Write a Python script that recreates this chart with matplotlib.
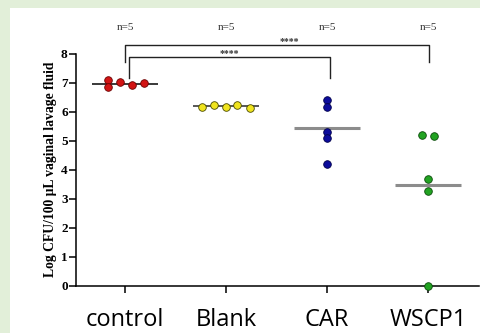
import numpy as np
import matplotlib
matplotlib.use('Agg')
import matplotlib.pyplot as plt
from matplotlib.patches import Rectangle

# data
groups = ['control', 'Blank', 'CAR', 'WSCP1']
control = [7.08, 6.86, 7.03, 6.91, 6.98]
blank = [6.15, 6.23, 6.16, 6.23, 6.14]
car = [6.40, 6.15, 5.29, 5.08, 4.20]
wscp1 = [5.20, 5.16, 3.67, 3.28, 0.0]
n_labels = ['n=5', 'n=5', 'n=5', 'n=5']
stars = ['****', '****']

values = [control, blank, car, wscp1]

# layout / styling
jitter = [[-0.17, -0.17, -0.05, 0.07, 0.19],
          [-0.24, -0.12, 0.0, 0.11, 0.24],
          [0, 0, 0, 0, 0],
          [-0.06, 0.06, 0, 0, 0]]
face = ['#d21414', '#f0e41e', '#0c0c9c', '#22a322']
edge = ['#6a0000', '#4a4a00', '#00004a', '#0a4a0a']
mean_col = ['#2a2a2a', '#4a4a4a', '#8c8c8c', '#8c8c8c']
mean_lw = [1.3, 1.3, 2.2, 2.2]

W, H = 481, 333
fig = plt.figure(figsize=(W / 100, H / 100), dpi=100, facecolor='#e2efd9')
fig.patches.append(Rectangle((10 / W, 0), 1, 1 - 8 / H, transform=fig.transFigure,
                             facecolor='white', edgecolor='none', zorder=-1))

ax = fig.add_axes([76 / W, 1 - 285.7 / H, 403 / W, 232 / H])
ax.set_facecolor('none')
ax.set_xlim(-0.485, 3.505)
ax.set_ylim(0, 8)

for i, vals in enumerate(values):
    xs = i + np.array(jitter[i])
    m = np.mean(vals)
    ax.plot([i - 0.33, i + 0.33], [m, m], color=mean_col[i], lw=mean_lw[i],
            solid_capstyle='butt', zorder=2, clip_on=False)
    ax.scatter(xs, vals, s=30, color=face[i], edgecolors=edge[i], linewidths=0.6,
               zorder=3, clip_on=False)

for sp in ['top', 'right']:
    ax.spines[sp].set_visible(False)
for sp in ['left', 'bottom']:
    ax.spines[sp].set_linewidth(1.1)

ax.set_yticks(range(0, 9))
ax.set_yticklabels([str(v) for v in range(0, 9)], fontfamily='Liberation Serif',
                   fontweight='bold', fontsize=9.5)
ax.tick_params(axis='y', direction='out', length=5, width=1.1, pad=1)
ax.set_xticks(range(len(groups)))
ax.set_xticklabels(groups, fontfamily='Open Sans', fontsize=17)
ax.tick_params(axis='x', direction='out', length=5, width=1.1, pad=11)

ax.set_ylabel('Log CFU/100 \u03bcL vaginal lavage fluid', fontfamily='Liberation Serif',
              fontweight='bold', fontsize=9.8, labelpad=3)

# n labels
for i, t in enumerate(n_labels):
    ax.text(i, 8.92, t, ha='center', va='center', fontsize=8,
            fontfamily='Liberation Serif', color='#333333', clip_on=False)

# significance brackets
ax.plot([0, 0, 3.01, 3.01], [7.71, 8.30, 8.30, 7.71], color='#222222', lw=1.0, clip_on=False)
ax.plot([0.04, 0.04, 2.03, 2.03], [7.16, 7.89, 7.89, 7.16], color='#222222', lw=1.0, clip_on=False)
ax.text(1.63, 8.42, stars[0], ha='center', va='center', fontsize=7,
        fontfamily='Liberation Serif', fontweight='bold', color='#333333', clip_on=False)
ax.text(1.03, 7.99, stars[1], ha='center', va='center', fontsize=7,
        fontfamily='Liberation Serif', fontweight='bold', color='#333333', clip_on=False)

fig.savefig('out.png', dpi=100, facecolor=fig.get_facecolor())
